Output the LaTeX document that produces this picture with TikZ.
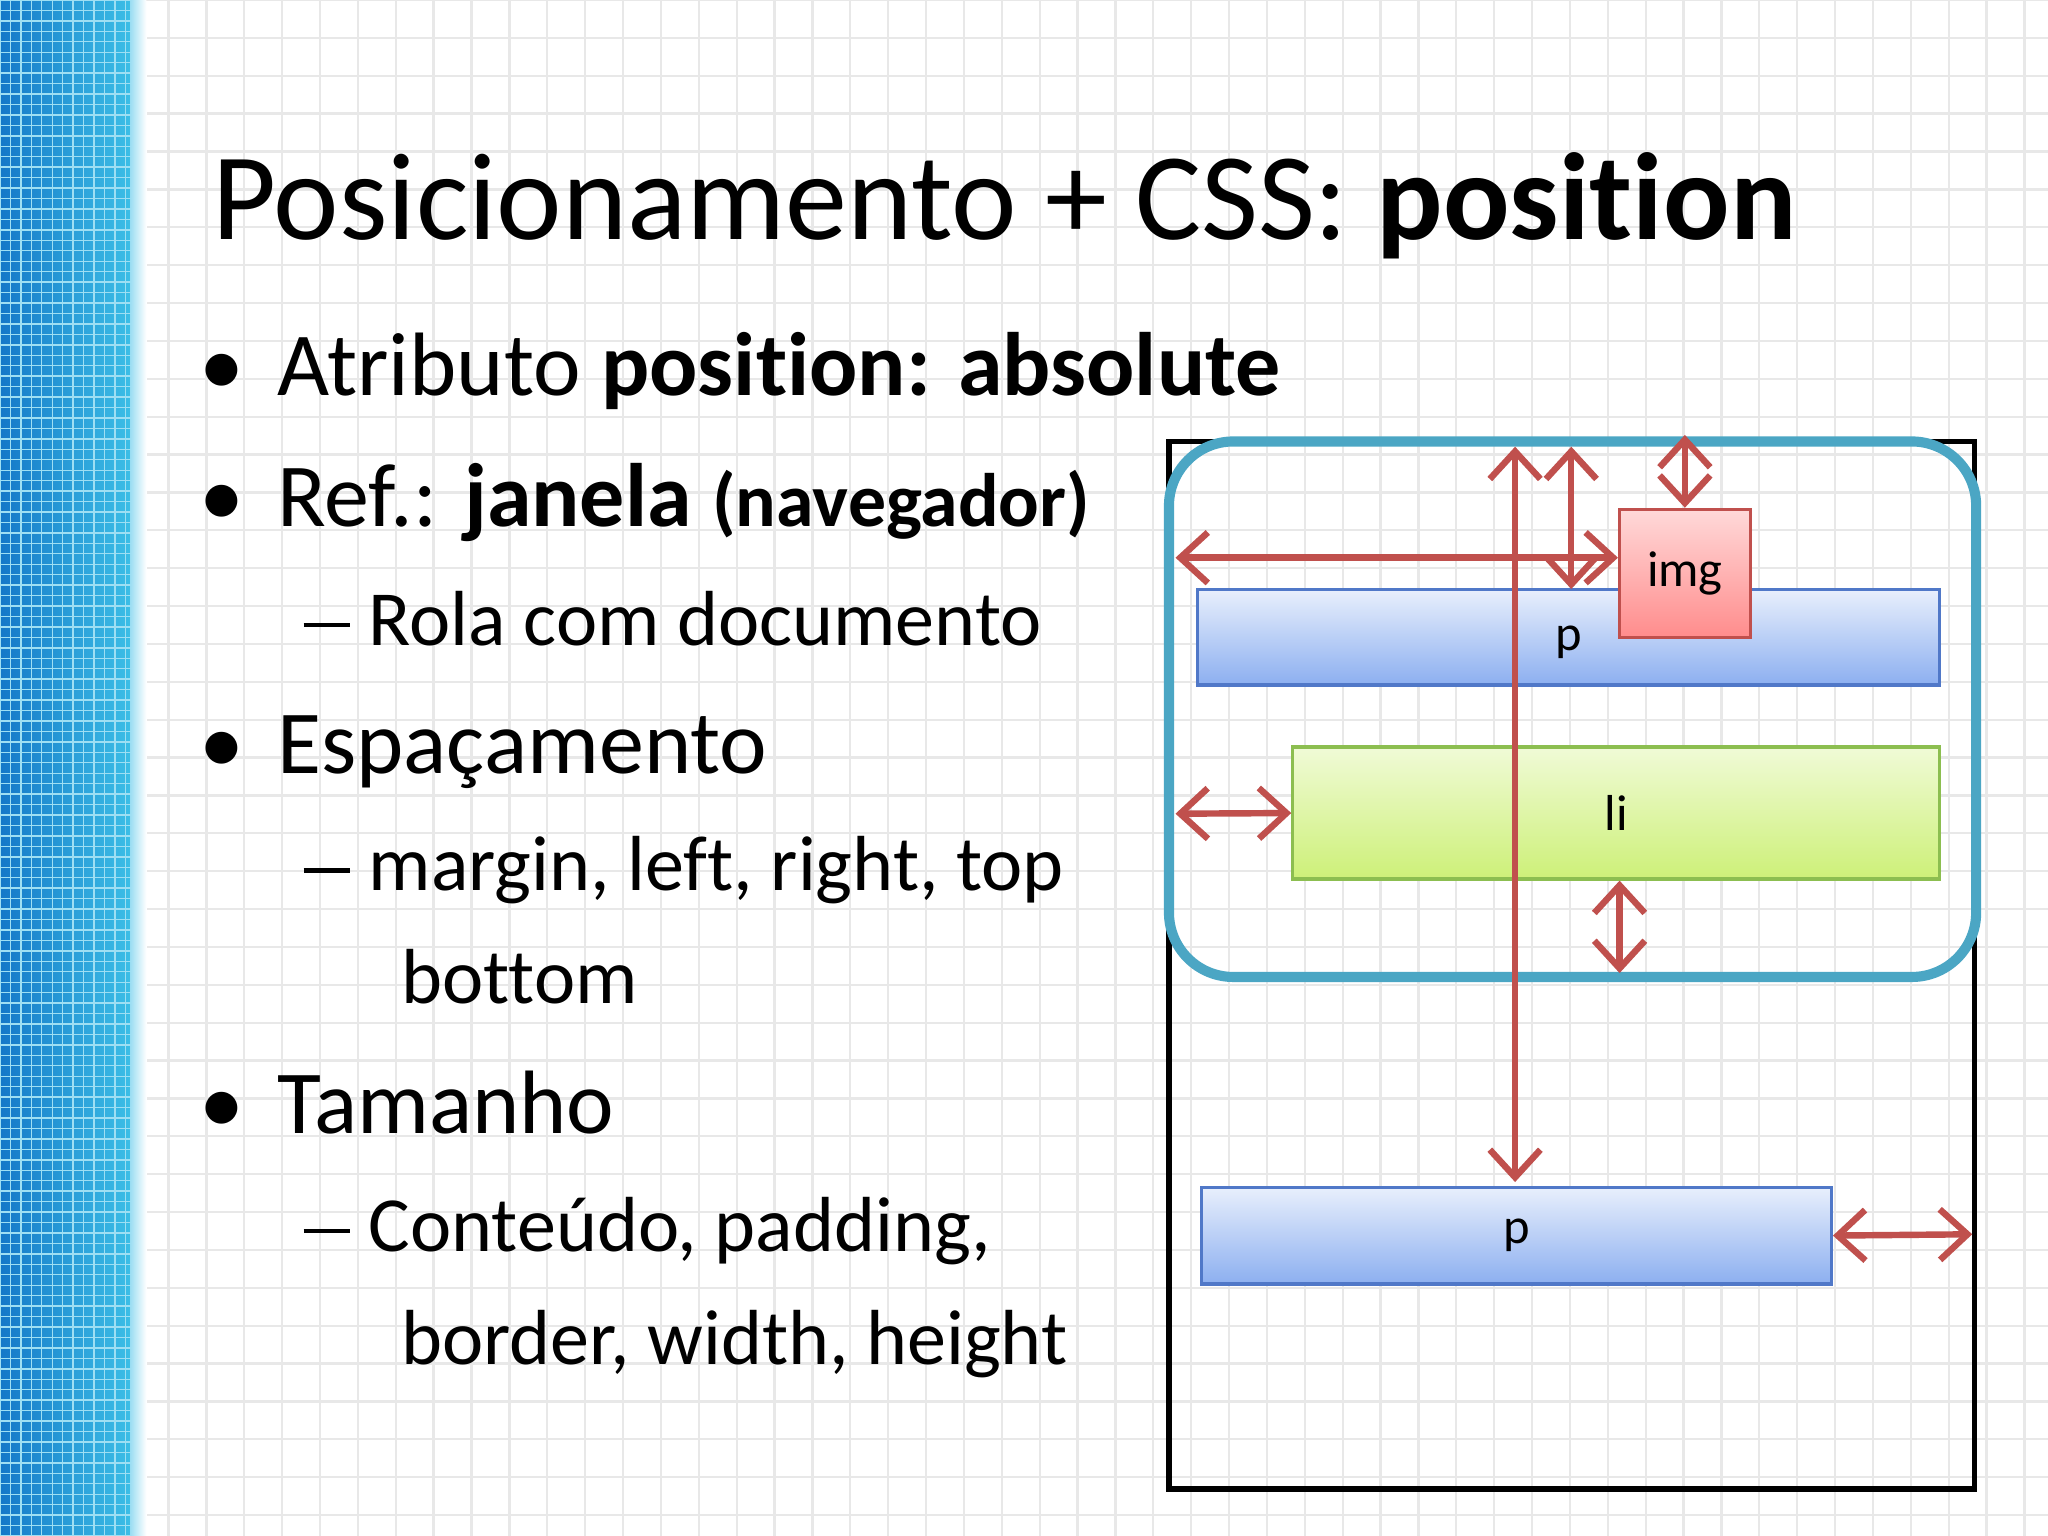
\documentclass[tikz,border=0pt]{standalone}
\usepackage{fontspec}
\setmainfont{Carlito}[Ligatures=NoCommon]
\usetikzlibrary{arrows.meta}
\definecolor{frame}{RGB}{75,166,196}
\definecolor{arr}{RGB}{192,80,77}
\definecolor{pblue}{RGB}{140,175,240}
\definecolor{pbord}{RGB}{80,120,200}
\definecolor{lgreen}{RGB}{205,240,120}
\definecolor{gbord}{RGB}{140,190,80}
\definecolor{stripA}{RGB}{20,120,200}
\definecolor{stripB}{RGB}{60,190,230}
\tikzset{
 pbox/.style={draw=pbord,line width=0.7pt,top color=white!80!pblue,bottom color=pblue,font=\fontsize{11}{13}\selectfont},
 lbox/.style={draw=gbord,line width=0.7pt,top color=white!70!lgreen,bottom color=lgreen,font=\fontsize{11}{13}\selectfont},
 ibox/.style={draw=arr,line width=0.7pt,top color=red!15,bottom color=red!45,font=\fontsize{11}{13}\selectfont},
 rarr/.style={draw=arr,line width=1.4pt,{Straight Barb[length=6pt,width=11pt]}-{Straight Barb[length=6pt,width=11pt]}},
 bul/.style={anchor=base west,font=\fontsize{19.6}{24}\selectfont},
 sub/.style={anchor=base west,font=\fontsize{17}{20}\selectfont},
}
\newcommand\longdash{\rule[0.23em]{0.6em}{0.06em}}
\begin{document}
\begin{tikzpicture}[x=0.01cm,y=-0.01cm]
\useasboundingbox (0,0) rectangle (1568,1176);
\fill[white] (0,0) rectangle (1568,1176);
\foreach \x in {100,129,...,1568} \draw[black!9,line width=0.5pt] (\x,0) -- (\x,1176);
\foreach \y in {0,29,...,1176} \draw[black!9,line width=0.5pt] (100,\y) -- (1568,\y);
\shade[left color=stripA,right color=stripB] (0,0) rectangle (100,1176);
\shade[left color=stripB!50,right color=white] (100,0) rectangle (112,1176);
\foreach \x in {0,8,...,100} \draw[white!50!stripB,line width=0.3pt] (\x,0) -- (\x,1176);
\foreach \y in {0,8,...,1176} \draw[white!50!stripB,line width=0.3pt] (0,\y) -- (100,\y);
\node[anchor=base west,font=\fontsize{27}{30}\selectfont] (title) at (150,183) {Posicionamento + CSS: \textbf{position}};
\node[bul] at (140,303) {•}; \node[bul] (b1) at (200,303) {Atributo \textbf{position: absolute}};
\node[bul] at (140,403) {•}; \node[bul] (b2) at (200,403) {Ref.: \textbf{janela} \textbf{\fontsize{16.5}{20}\selectfont(navegador)}};
\node[sub] (s1) at (220,494) {\longdash\hspace{4pt}Rola com documento};
\node[bul] at (140,592) {•}; \node[bul] (b3) at (200,592) {Espaçamento};
\node[sub] (s2) at (220,682) {\longdash\hspace{4pt}margin, left, right, top};
\node[sub] (s3) at (295,768) {bottom};
\node[bul] at (140,868) {•}; \node[bul] (b4) at (200,868) {Tamanho};
\node[sub] (s4) at (220,958) {\longdash\hspace{4pt}Conteúdo, padding,};
\node[sub] (s5) at (295,1045) {border, width, height};
% window
\draw[line width=1.1pt] (895,338) rectangle (1512,1140);
\draw[frame,line width=2.2pt,rounded corners=14pt] (895,338) rectangle (1513,748);
\node[pbox,minimum width=5.68cm,minimum height=0.73cm,inner sep=0] (p1) at (1201,488) {};
\node[font=\fontsize{11}{13}\selectfont] (p1t) at (1201,492) {p};
\node[lbox,minimum width=4.95cm,minimum height=1.01cm] (li) at (1237.5,622.5) {li};
\node[pbox,minimum width=4.82cm,minimum height=0.74cm] (p2) at (1161,946) {p};
\coordinate (t1) at (1160,342); \coordinate (t2) at (1203,342); \coordinate (t3) at (1290,333);
\coordinate (l1) at (900,427); \coordinate (l2) at (900,623); \coordinate (r3) at (1510,945);
\coordinate (pt) at (1203,451); \coordinate (bot) at (1240,745);
\draw[rarr] (t1) -- (1160,905);
\draw[rarr] (t2) -- (pt);
\node[ibox,minimum width=1.0cm,minimum height=0.98cm] (img) at (1290,439) {img};
\draw[rarr] (t3) -- (img.north);
\draw[rarr] (l1) -- (img.west |- l1);
\draw[rarr] (l2) -- (li.west);
\draw[rarr] (li.south -| bot) -- (bot);
\draw[rarr] (p2.east) -- (r3);
\end{tikzpicture}
\end{document}
